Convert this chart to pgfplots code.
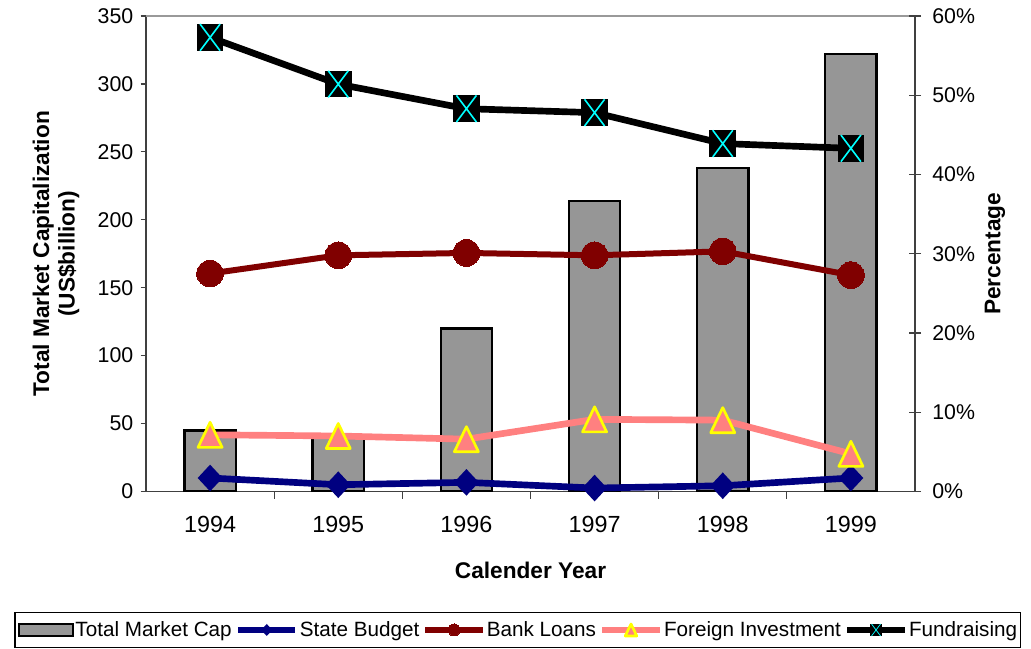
\documentclass[border=0pt]{standalone}
\usepackage{fontspec}
\setmainfont{Liberation Sans}
\usepackage{pgfplots}
\pgfplotsset{compat=1.18}

\definecolor{barfill}{RGB}{150,150,150}
\definecolor{navyline}{RGB}{0,0,128}
\definecolor{maroonline}{RGB}{128,0,0}
\definecolor{salmonline}{RGB}{255,128,128}
\definecolor{aqua}{RGB}{0,255,255}
\definecolor{markyellow}{RGB}{255,255,0}

% Excel-like markers
\pgfdeclareplotmark{xdia}{%
  \pgfpathmoveto{\pgfqpoint{0pt}{\pgfplotmarksize}}%
  \pgfpathlineto{\pgfqpoint{0.93\pgfplotmarksize}{0pt}}%
  \pgfpathlineto{\pgfqpoint{0pt}{-\pgfplotmarksize}}%
  \pgfpathlineto{\pgfqpoint{-0.93\pgfplotmarksize}{0pt}}%
  \pgfpathclose
  \pgfusepathqfill}
\pgfdeclareplotmark{xtri}{%
  \pgfpathmoveto{\pgfqpoint{0pt}{\pgfplotmarksize}}%
  \pgfpathlineto{\pgfqpoint{0.96\pgfplotmarksize}{-\pgfplotmarksize}}%
  \pgfpathlineto{\pgfqpoint{-0.96\pgfplotmarksize}{-\pgfplotmarksize}}%
  \pgfpathclose
  \pgfusepathqfillstroke}
\pgfdeclareplotmark{sqx}{%
  \pgfsetfillcolor{black}%
  \pgfpathrectangle{\pgfqpoint{-\pgfplotmarksize}{-\pgfplotmarksize}}{\pgfqpoint{2\pgfplotmarksize}{2\pgfplotmarksize}}%
  \pgfusepathqfill
  \pgfsetstrokecolor{aqua}%
  \pgfsetlinewidth{0.12\pgfplotmarksize}%
  \pgfpathmoveto{\pgfqpoint{-0.75\pgfplotmarksize}{\pgfplotmarksize}}%
  \pgfpathlineto{\pgfqpoint{0.75\pgfplotmarksize}{-\pgfplotmarksize}}%
  \pgfpathmoveto{\pgfqpoint{-0.75\pgfplotmarksize}{-\pgfplotmarksize}}%
  \pgfpathlineto{\pgfqpoint{0.75\pgfplotmarksize}{\pgfplotmarksize}}%
  \pgfusepathqstroke}

\pgfplotsset{
  linelegend/.style={legend image code/.code={%
    \draw[mark repeat=2,mark phase=2,##1,mark size=4.5pt]
      plot coordinates {(0pt,0pt) (21.5pt,0pt) (43pt,0pt)};}},
  barlegend/.style={legend image code/.code={%
    \draw[##1] (0pt,-4.5pt) rectangle (41pt,4.5pt);}},
}

\begin{document}
\begin{tikzpicture}
\begin{axis}[
  at={(0,0)}, anchor=south west,
  scale only axis, width=576.75pt, height=356.6pt,
  xmin=-0.5, xmax=5.5, ymin=0, ymax=350,
  axis x line*=bottom, axis y line*=left,
  xtick={0,1,2,3,4,5},
  xticklabels={1994,1995,1996,1997,1998,1999},
  minor xtick={0.5,1.5,2.5,3.5,4.5},
  ytick={0,50,...,350},
  tick align=outside,
  major tick length=4pt, minor tick length=5.5pt,
  axis line style={draw=black!75, line width=0.9pt, -},
  tick style={draw=black!75, line width=0.9pt},
  minor tick style={draw=black!75, line width=0.9pt},
  major x tick style={draw=none},
  /pgf/number format/assume math mode=true,
  xticklabel style={font=\fontsize{17.5}{20}\selectfont, yshift=-11pt},
  yticklabel style={font=\fontsize{16}{19}\selectfont, xshift=-2pt},
  xlabel={Calender Year},
  ylabel={Total Market Capitalization\\(US\$billion)},
  xlabel style={font=\bfseries\fontsize{17}{20}\selectfont,
    at={(axis description cs:0.5,-0.165)}, anchor=center},
  ylabel style={font=\bfseries\fontsize{17}{19}\selectfont, align=center,
    at={(axis description cs:-0.117,0.5)}, anchor=center},
]
\addplot[ybar, bar width=0.4, fill=barfill, draw=black, line width=1.8pt]
  coordinates {(0,45) (1,41) (2,120) (3,214) (4,238) (5,322)};
\draw[gray!80, line width=1pt] (rel axis cs:0,1) -- (rel axis cs:1,1);
\end{axis}

\begin{axis}[
  at={(0,0)}, anchor=south west,
  scale only axis, width=576.75pt, height=356.6pt,
  xmin=-0.5, xmax=5.5, ymin=0, ymax=60,
  axis x line=none, axis y line*=right,
  ytick={0,10,...,60},
  yticklabel={\pgfmathprintnumber{\tick}\%},
  tick align=center, major tick length=9pt,
  axis line style={draw=black!75, line width=0.9pt, -},
  tick style={draw=black!75, line width=0.9pt},
  /pgf/number format/assume math mode=true,
  yticklabel style={font=\fontsize{16}{19}\selectfont, xshift=5pt},
  ylabel={Percentage},
  ylabel style={font=\bfseries\fontsize{17}{20}\selectfont,
    at={(axis description cs:1.104,0.5)}, anchor=center},
  legend columns=5,
  legend style={at={(axis description cs:0.4837,-0.2913)}, anchor=center,
    draw=black, line width=0.9pt, font=\fontsize{15.5}{19}\selectfont,
    inner xsep=2pt, inner ysep=4.5pt,
    nodes={inner xsep=0.8pt},
    /tikz/every even column/.append style={column sep=1.5pt}},
  legend cell align=left,
]
\addlegendimage{barlegend, fill=barfill, draw=black, line width=1.5pt}
\addlegendentry{Total Market Cap}

\addplot[navyline, line width=5pt, line join=round, mark=xdia, mark size=10pt,
  mark options={fill=navyline, solid}, linelegend]
  coordinates {(0,1.7) (1,0.85) (2,1.15) (3,0.43) (4,0.72) (5,1.7)};
\addlegendentry{State Budget}

\addplot[maroonline, line width=4.5pt, line join=round, mark=*, mark size=10pt,
  mark options={fill=maroonline, draw=maroonline, line width=0pt}, linelegend]
  coordinates {(0,27.5) (1,29.8) (2,30.1) (3,29.8) (4,30.3) (5,27.3)};
\addlegendentry{Bank Loans}

\addplot[salmonline, line width=5pt, line join=round, mark=xtri, mark size=9.4pt,
  mark options={fill=salmonline, draw=markyellow, line width=2pt}, linelegend]
  coordinates {(0,7.15) (1,7.0) (2,6.6) (3,9.1) (4,9.0) (5,4.75)};
\addlegendentry{Foreign Investment}

\addplot[black, line width=5pt, line join=round, mark=sqx, mark size=10pt,
  linelegend]
  coordinates {(0,57.3) (1,51.4) (2,48.3) (3,47.8) (4,43.9) (5,43.3)};
\addlegendentry{Fundraising}
\end{axis}

\pgfresetboundingbox
\path (-109.5pt,-118.1pt) rectangle (663.75pt,368.6pt);
\end{tikzpicture}
\end{document}
